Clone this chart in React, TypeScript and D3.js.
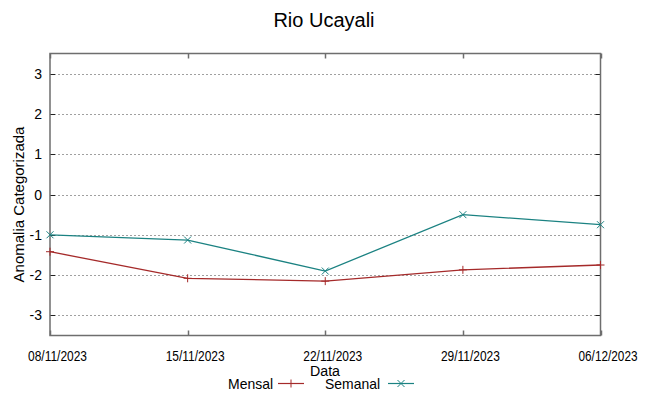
import React from 'react';
import { scaleLinear, scalePoint, line } from 'd3';

const dates = ['08/11/2023', '15/11/2023', '22/11/2023', '29/11/2023', '06/12/2023'];
const mensal = [-1.42, -2.08, -2.15, -1.87, -1.75];
const semanal = [-1.0, -1.13, -1.9, -0.5, -0.75];
const yTickValues = [-3, -2, -1, 0, 1, 2, 3];

const width = 649, height = 396;
const left = 50, right = 600.5, top = 53.5, bottom = 335.5;
const redC = '#a52a2a';
const tealC = '#1b8282';
const frame = '#6e6e6e';
const sans = "'Liberation Sans', Arial, sans-serif";

export default function App() {
  const x = scalePoint<string>().domain(dates).range([left, right]);
  const y = scaleLinear().domain([-3.5, 3.5]).range([bottom, top]);

  const lineF = line<number>()
    .x((_, i) => x(dates[i]) as number)
    .y(d => y(d));

  const plus = (cx: number, cy: number, c: string, k: string) => (
    <g key={k} stroke={c} strokeWidth={1}>
      <line x1={cx - 4} x2={cx + 4} y1={cy} y2={cy} />
      <line x1={cx} x2={cx} y1={cy - 4} y2={cy + 4} />
    </g>
  );
  const cross = (cx: number, cy: number, c: string, k: string) => (
    <g key={k} stroke={c} strokeWidth={1}>
      <line x1={cx - 3.5} x2={cx + 3.5} y1={cy - 3.5} y2={cy + 3.5} />
      <line x1={cx - 3.5} x2={cx + 3.5} y1={cy + 3.5} y2={cy - 3.5} />
    </g>
  );

  return (
    <svg width={width} height={height} style={{ position: 'absolute', left: 0, top: 0 }}
      fontFamily={sans}>
      <rect width={width} height={height} fill="#fff" />
      <text x={324} y={27} textAnchor="middle" fontSize={20}>Rio Ucayali</text>

      {/* grid + y ticks */}
      {yTickValues.map(t => (
        <g key={t}>
          <line x1={left} x2={right} y1={Math.round(y(t)) + 0.5} y2={Math.round(y(t)) + 0.5}
            stroke="#a0a0a0" strokeDasharray="2,2" strokeWidth={1} />
          <line x1={left} x2={left + 5} y1={Math.round(y(t)) + 0.5} y2={Math.round(y(t)) + 0.5} stroke="#222" />
          <line x1={right - 5} x2={right} y1={Math.round(y(t)) + 0.5} y2={Math.round(y(t)) + 0.5} stroke="#222" />
          <text x={42} y={y(t) + 5} textAnchor="end" fontSize={14}>{t}</text>
        </g>
      ))}

      {/* x ticks */}
      {dates.map(d => (
        <g key={d}>
          <line x1={Math.round(x(d) as number) + 0.5} x2={Math.round(x(d) as number) + 0.5}
            y1={bottom} y2={bottom - 5} stroke={frame} strokeWidth={1.5} />
          <line x1={Math.round(x(d) as number) + 0.5} x2={Math.round(x(d) as number) + 0.5}
            y1={top} y2={top + 5} stroke={frame} strokeWidth={1.5} />
          <text x={(x(d) as number) - 22} y={361} fontSize={14}
            textLength={59} lengthAdjust="spacingAndGlyphs">{d}</text>
        </g>
      ))}

      <rect x={left} y={top} width={right - left} height={bottom - top}
        fill="none" stroke={frame} strokeWidth={1.5} />

      <path d={lineF(mensal) || ''} fill="none" stroke={redC} strokeWidth={1.3} />
      <path d={lineF(semanal) || ''} fill="none" stroke={tealC} strokeWidth={1.3} />
      {mensal.map((v, i) => plus(x(dates[i]) as number, y(v), redC, 'm' + i))}
      {semanal.map((v, i) => cross(x(dates[i]) as number, y(v), tealC, 's' + i))}

      <text transform={`translate(24,${(top + bottom) / 2 + 10}) rotate(-90)`} textAnchor="middle"
        fontSize={15}>Anomalia Categorizada</text>
      <text x={310} y={376} fontSize={14} textLength={30} lengthAdjust="spacingAndGlyphs">Data</text>

      {/* legend */}
      <text x={228} y={389} fontSize={15} textLength={45} lengthAdjust="spacingAndGlyphs">Mensal</text>
      <line x1={278} x2={304} y1={383.5} y2={383.5} stroke={redC} strokeWidth={1.2} />
      {plus(291, 383.5, redC, 'lm')}
      <text x={325} y={389} fontSize={15} textLength={55} lengthAdjust="spacingAndGlyphs">Semanal</text>
      <line x1={388} x2={414} y1={383.5} y2={383.5} stroke={tealC} strokeWidth={1.2} />
      {cross(401, 383.5, tealC, 'ls')}
    </svg>
  );
}
